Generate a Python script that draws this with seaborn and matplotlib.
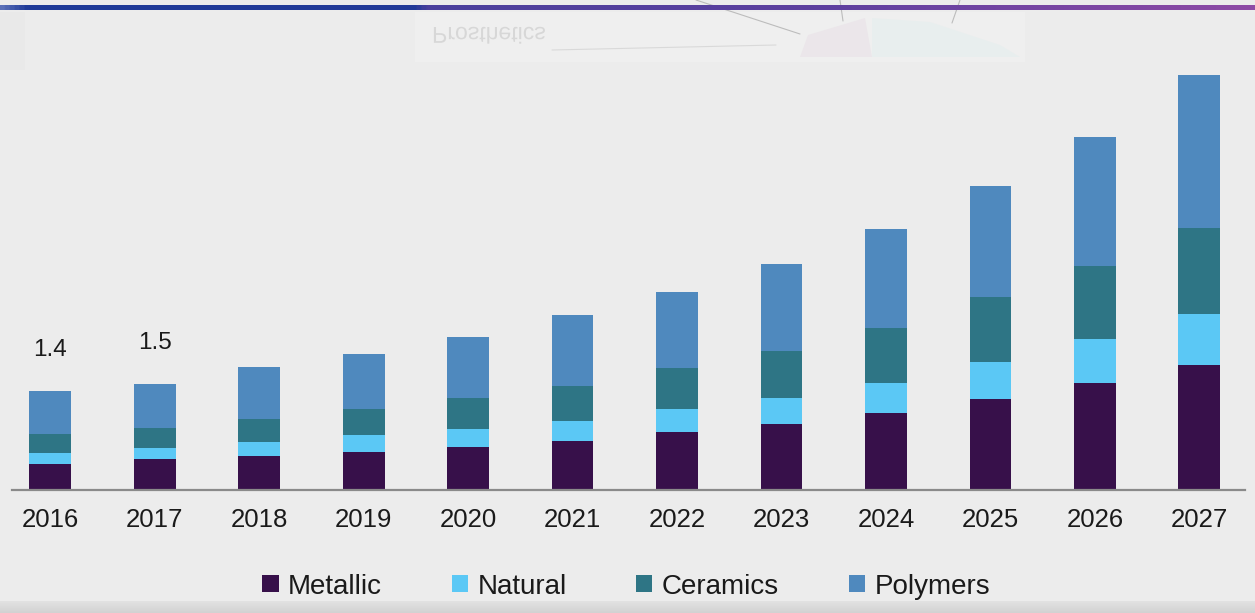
import numpy as np
import pandas as pd
import matplotlib
matplotlib.use("Agg")
import matplotlib.pyplot as plt
import seaborn as sns
from matplotlib.patches import Patch, Rectangle, PathPatch, Polygon
from matplotlib.colors import LinearSegmentedColormap
from matplotlib.textpath import TextPath
from matplotlib.font_manager import FontProperties

# Market size by material (USD billion)
years = ["2016", "2017", "2018", "2019", "2020", "2021",
         "2022", "2023", "2024", "2025", "2026", "2027"]
metallic = [0.37, 0.43, 0.48, 0.53, 0.61, 0.69, 0.81, 0.93, 1.08, 1.28, 1.51, 1.76]
natural = [0.15, 0.16, 0.20, 0.24, 0.25, 0.28, 0.33, 0.37, 0.43, 0.52, 0.61, 0.72]
ceramics = [0.27, 0.29, 0.32, 0.37, 0.43, 0.50, 0.58, 0.66, 0.77, 0.92, 1.03, 1.21]
polymers = [0.61, 0.62, 0.73, 0.78, 0.87, 0.99, 1.07, 1.23, 1.40, 1.56, 1.82, 2.15]
labelled_years = ["2016", "2017"]

series = ["Metallic", "Natural", "Ceramics", "Polymers"]
colors = ["#37104a", "#5bc8f5", "#2e7585", "#4f89be"]
bg = "#ececec"

df = pd.DataFrame({"year": years, "Metallic": metallic, "Natural": natural,
                   "Ceramics": ceramics, "Polymers": polymers})
cum = df[series].cumsum(axis=1)
df["total"] = cum["Polymers"]

sns.set_theme(style="white")
plt.rcParams["font.family"] = ["Liberation Sans", "DejaVu Sans"]

fig = plt.figure(figsize=(12.55, 6.13), dpi=100, facecolor=bg)
ax = fig.add_axes([12 / 1255, 123 / 613, 1233 / 1255, 420 / 613])
ax.set_facecolor(bg)

# Stacked bars: draw cumulative heights from the top segment down
for name, col in reversed(list(zip(series, colors))):
    sns.barplot(x=df["year"], y=cum[name], color=col, width=0.40,
                linewidth=0, saturation=1, ax=ax, order=years)

ax.set_xlim(-0.366, 11.437)
ax.set_ylim(0, 420 / 71)
ax.set_xlabel("")
ax.set_ylabel("")
ax.set_yticks([])
for s in ["top", "right", "left"]:
    ax.spines[s].set_visible(False)
ax.spines["bottom"].set_color("#8a8a8a")
ax.spines["bottom"].set_linewidth(1.6)
ax.tick_params(axis="x", length=0, pad=13, labelsize=18.5, labelcolor="#1a1a1a")

for i, (yr, tot) in enumerate(zip(df["year"], df["total"])):
    if yr in labelled_years:
        ax.annotate(f"{tot:.1f}", xy=(i, tot), xytext=(0, 29),
                    textcoords="offset points", ha="center", va="center",
                    fontsize=17.5, color="#1a1a1a")

handles = [Patch(facecolor=c, edgecolor="none") for c in colors]
fig.legend(handles, series, ncol=4, loc="center",
           bbox_to_anchor=(0.499, 0.043), frameon=False, fontsize=20,
           handlelength=0.58, handleheight=0.58, handletextpad=0.35,
           columnspacing=2.5, labelcolor="#1a1a1a")

# Page decoration in pixel coordinates
deco = fig.add_axes([0, 0, 1, 1], zorder=-1)
deco.axis("off")
deco.patch.set_alpha(0)

# faint banner image at the top
deco.add_patch(Rectangle((415, 12), 610, 50, facecolor="#efefef", edgecolor="none"))
deco.add_patch(Rectangle((0, 12), 25, 58, facecolor="#e9e9e9", edgecolor="none"))
deco.add_patch(Polygon([[808, 35], [865, 18], [872, 57], [800, 57]],
                       closed=True, facecolor="#ebe6ea", edgecolor="none"))
deco.add_patch(Polygon([[872, 18], [930, 22], [1000, 45], [1020, 57], [872, 57]],
                       closed=True, facecolor="#e8eeee", edgecolor="none"))
deco.plot([696, 800], [0, 34], color="#8a8a8a", lw=0.8, alpha=0.5)
deco.plot([840, 843], [0, 21], color="#8a8a8a", lw=0.8, alpha=0.5)
deco.plot([960, 952], [0, 23], color="#8a8a8a", lw=0.8, alpha=0.5)
deco.plot([552, 776], [50, 45], color="#c4c4c4", lw=0.8, alpha=0.5)
tp = TextPath((432, 27), "Prosthetics", size=23,
              prop=FontProperties(family="Liberation Sans"))
deco.add_patch(PathPatch(tp, facecolor="#cfcfcf", edgecolor="none", alpha=0.75))

# gradient rule along the top edge
grad = LinearSegmentedColormap.from_list(
    "rule", [(0.0, "#5a70b8"), (0.02, "#1f3a98"), (0.33, "#233b99"),
             (0.34, "#4a3f9d"), (0.65, "#5d3f9f"), (1.0, "#8e4ba6")])
deco.imshow(np.linspace(0, 1, 512)[None, :], cmap=grad, aspect="auto",
            extent=(0, 1255, 10.5, 5.5), zorder=3)

# reflection strip along the bottom
strip = LinearSegmentedColormap.from_list("strip", ["#e2e2e2", "#d2d2d2"])
deco.imshow(np.linspace(0, 1, 64)[:, None], cmap=strip, aspect="auto",
            extent=(0, 1255, 613, 601), zorder=1)
deco.set_xlim(0, 1255)
deco.set_ylim(613, 0)

fig.savefig("out.png", dpi=100, facecolor=bg)
